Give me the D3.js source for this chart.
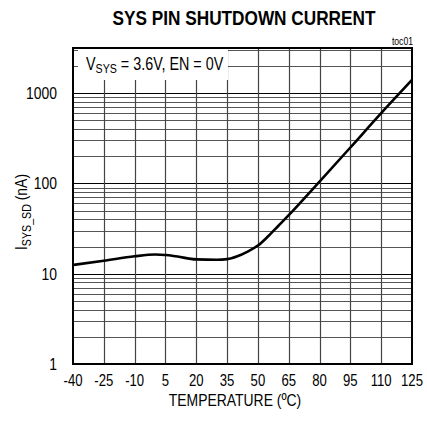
<!DOCTYPE html>
<html>
<head>
<meta charset="utf-8">
<style>
body { margin: 0; background: #fff; }
svg { display: block; font-family: "Liberation Sans", Arial, sans-serif; }
</style>
</head>
<body>
<svg id="chart" width="427" height="423"></svg>
<script src="https://cdn.jsdelivr.net/npm/d3@7"></script>
<script>
// values (temperature in degC, shutdown current in nA)
var temps   = [-40, -25, -10, 0, 5, 10, 20, 30, 35, 40, 45, 50, 55, 60, 65, 80, 95, 110, 125];
var current = [12.5, 13.9, 15.6, 16.3, 16.1, 15.6, 14.4, 14.3, 14.5, 15.6, 17.6, 20.5, 26, 34, 44.5, 105, 250, 600, 1400];

var xTicks = [-40, -25, -10, 5, 20, 35, 50, 65, 80, 95, 110, 125];
var yTicks = [1, 10, 100, 1000];

var svg = d3.select("#chart");
var pl = 73, pr = 412, pt = 48, pb = 364;
var narrow = 0.82; // the original uses a condensed face

var x = d3.scaleLinear().domain([-40, 125]).range([pl, pr]);
var y = d3.scaleLog().domain([1, Math.pow(10, 3.5)]).range([pb, pt]);

// text squeezed horizontally to mimic a narrow font
function label(g, px, py, size, anchor) {
  return g.append("text")
    .attr("transform", "translate(" + px + "," + py + ") scale(" + narrow + ",1)")
    .attr("text-anchor", anchor)
    .attr("font-size", size);
}

// title + toc tag
label(svg, 244, 25, 21, "middle")
  .attr("font-weight", "bold")
  .text("SYS PIN SHUTDOWN CURRENT");

label(svg, 413, 45, 10.5, "end").text("toc01");

// grid: minor log lines
var minor = [];
for (var k = 0; k < 4; k++) {
  for (var m = 2; m <= 9; m++) {
    var v = m * Math.pow(10, k);
    if (v < Math.pow(10, 3.5)) minor.push(v);
  }
}

var grid = svg.append("g");
grid.selectAll(".hminor")
  .data(minor)
  .enter().append("line")
    .attr("x1", pl).attr("x2", pr)
    .attr("y1", function(d) { return Math.round(y(d)) + 0.5; })
    .attr("y2", function(d) { return Math.round(y(d)) + 0.5; })
    .attr("stroke", "#555").attr("stroke-width", 1);

grid.selectAll(".hmajor")
  .data(yTicks.slice(1))
  .enter().append("line")
    .attr("x1", pl).attr("x2", pr)
    .attr("y1", function(d) { return Math.round(y(d)) + 0.5; })
    .attr("y2", function(d) { return Math.round(y(d)) + 0.5; })
    .attr("stroke", "#000").attr("stroke-width", 1.2);

grid.selectAll(".vline")
  .data(xTicks.slice(1, -1))
  .enter().append("line")
    .attr("y1", pt).attr("y2", pb)
    .attr("x1", function(d) { return Math.round(x(d)) + 0.5; })
    .attr("x2", function(d) { return Math.round(x(d)) + 0.5; })
    .attr("stroke", "#444").attr("stroke-width", 1.2);

// legend box hides grid behind it
svg.append("rect")
  .attr("x", 78).attr("y", pt)
  .attr("width", 150).attr("height", 32)
  .attr("fill", "#fff");

var leg = label(svg, 86, 70, 17.5, "start");
leg.append("tspan").text("V");
leg.append("tspan").attr("font-size", 13).attr("dy", 3).text("SYS");
leg.append("tspan").attr("dy", -3).text(" = 3.6V, EN = 0V");

// curve
var line = d3.line()
  .x(function(d, i) { return x(temps[i]); })
  .y(function(d) { return y(d); })
  .curve(d3.curveMonotoneX);

svg.append("path")
  .datum(current)
  .attr("d", line)
  .attr("fill", "none")
  .attr("stroke", "#000")
  .attr("stroke-width", 2.6);

// frame
svg.append("rect")
  .attr("x", pl).attr("y", pt)
  .attr("width", pr - pl).attr("height", pb - pt)
  .attr("fill", "none")
  .attr("stroke", "#000").attr("stroke-width", 2);

// tick labels
var xl = svg.append("g");
xTicks.forEach(function(d) {
  label(xl, x(d), 386, 16, "middle").text(d);
});

var ylab = svg.append("g");
yTicks.forEach(function(d) {
  label(ylab, 57, y(d) + 6, 17, "end").text(d);
});

label(svg, 235, 406, 17, "middle").text("TEMPERATURE (\u00BAC)");

var yt = svg.append("text")
  .attr("transform", "translate(27,212) rotate(-90) scale(" + narrow + ",1)")
  .attr("text-anchor", "middle")
  .attr("font-size", 17);
yt.append("tspan").text("I");
yt.append("tspan").attr("font-size", 13).attr("dy", 4).text("SYS_SD");
yt.append("tspan").attr("dy", -4).text(" (nA)");
</script>
</body>
</html>
